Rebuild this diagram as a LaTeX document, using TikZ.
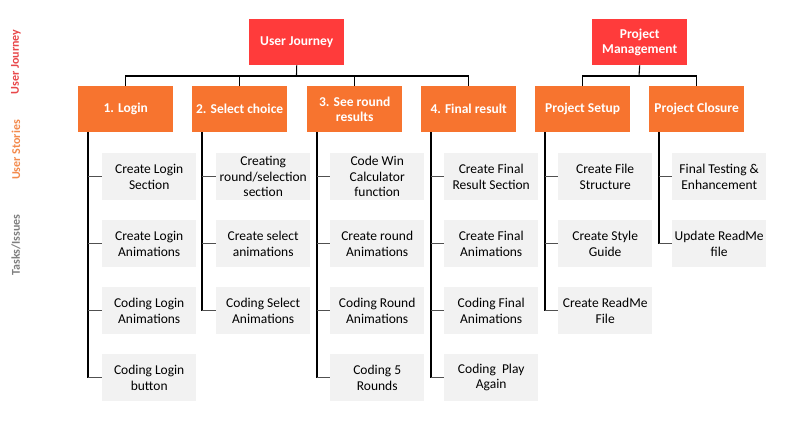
\documentclass[tikz,border=0pt]{standalone}
\usepackage{fontspec}
\setmainfont{Carlito}
\definecolor{topred}{HTML}{FF3B3B}
\definecolor{storyor}{HTML}{F7742F}
\definecolor{taskbg}{HTML}{F2F2F2}
\definecolor{labred}{HTML}{E8474A}
\definecolor{labor}{HTML}{F38A4C}
\definecolor{labgray}{HTML}{7F7F7F}
\definecolor{branchgray}{HTML}{505050}
\begin{document}
\begin{tikzpicture}[x=1pt,y=-1pt,
  topbox/.style={rectangle,fill=topred,text=white,font=\fontsize{13.5}{15.5}\selectfont\bfseries,
    minimum width=95pt,minimum height=46pt,inner sep=1pt,align=center,anchor=north west},
  storybox/.style={rectangle,fill=storyor,text=white,font=\fontsize{13.5}{15.5}\selectfont\bfseries,
    minimum width=95pt,minimum height=46pt,inner sep=1pt,align=center,anchor=north west},
  taskbox/.style={rectangle,fill=taskbg,text=black,font=\fontsize{13.5}{15.5}\selectfont,
    minimum width=94pt,minimum height=47pt,inner sep=1pt,align=center,anchor=north west},
  sidelabel/.style={rotate=90,font=\fontsize{12}{14}\selectfont\bfseries},
  trunk/.style={draw=black,line width=1.1pt},
  branch/.style={draw=branchgray,line width=1.1pt}]
\useasboundingbox (0,0) rectangle (785,421);
% side labels
\node[sidelabel,text=labred] (lj) at (16,62) {User Journey};
\node[sidelabel,text=labor] (ls) at (16,150) {User Stories};
\node[sidelabel,text=labgray] (lt) at (16,245) {Tasks/Issues};
% top boxes
\node[topbox] (uj) at (249,19) {User Journey};
\node[topbox] (pm) at (592,19) {Project\\Management};
% story boxes
\node[storybox] (s1) at (78,86) {1. Login};
\node[storybox] (s2) at (192,86) {2. Select choice};
\node[storybox] (s3) at (307,86) {3. See round\\results};
\node[storybox] (s4) at (421,86) {4. Final result};
\node[storybox] (s5) at (535,86) {Project Setup};
\node[storybox] (s6) at (649,86) {Project Closure};
% tasks
\node[taskbox] (t11) at (102,153) {Create Login\\Section};
\node[taskbox] (t12) at (102,220) {Create Login\\Animations};
\node[taskbox] (t13) at (102,287) {Coding Login\\Animations};
\node[taskbox] (t14) at (102,354) {Coding Login\\button};
\node[taskbox] (t21) at (216,153) {Creating\\round/selection\\section};
\node[taskbox] (t22) at (216,220) {Create select\\animations};
\node[taskbox] (t23) at (216,287) {Coding Select\\Animations};
\node[taskbox] (t31) at (330,153) {Code Win\\Calculator\\function};
\node[taskbox] (t32) at (330,220) {Create round\\Animations};
\node[taskbox] (t33) at (330,287) {Coding Round\\Animations};
\node[taskbox] (t34) at (330,354) {Coding 5\\Rounds};
\node[taskbox] (t41) at (444,153) {Create Final\\Result Section};
\node[taskbox] (t42) at (444,220) {Create Final\\Animations};
\node[taskbox] (t43) at (444,287) {Coding Final\\Animations};
\node[taskbox] (t44) at (444,354) {Coding~~Play\\Again};
\node[taskbox] (t51) at (558,153) {Create File\\Structure};
\node[taskbox] (t52) at (558,220) {Create Style\\Guide};
\node[taskbox] (t53) at (558,287) {Create ReadMe\\File};
\node[taskbox] (t61) at (672,153) {Final Testing \&\\Enhancement};
\node[taskbox] (t62) at (672,220) {Update ReadMe\\file};
% top connectors
\coordinate (ujbar) at (296.5,76);
\coordinate (pmbar) at (639,76);
\draw[trunk] (uj.south) -- (ujbar);
\draw[trunk] (s1.north) -- (s1.north |- ujbar) -- (s4.north |- ujbar) -- (s4.north);
\draw[trunk] (s2.north) -- (s2.north |- ujbar);
\draw[trunk] (s3.north) -- (s3.north |- ujbar);
\draw[trunk] (pm.south) -- (pmbar);
\draw[trunk] (s5.north) -- (s5.north |- pmbar) -- (s6.north |- pmbar) -- (s6.north);
% trunks and branches
\foreach \s/\last/\list in {s1/t14/{t11,t12,t13,t14}, s2/t23/{t21,t22,t23}, s3/t34/{t31,t32,t33,t34},
    s4/t44/{t41,t42,t43,t44}, s5/t53/{t51,t52,t53}, s6/t62/{t61,t62}}{
  \coordinate (\s tr) at ([xshift=10pt]\s.south west);
  \draw[trunk] (\s tr) -- (\s tr |- \last.west);
  \foreach \t in \list {
    \draw[branch] (\s tr |- \t.west) -- (\t.west);
  }
}
\end{tikzpicture}
\end{document}
